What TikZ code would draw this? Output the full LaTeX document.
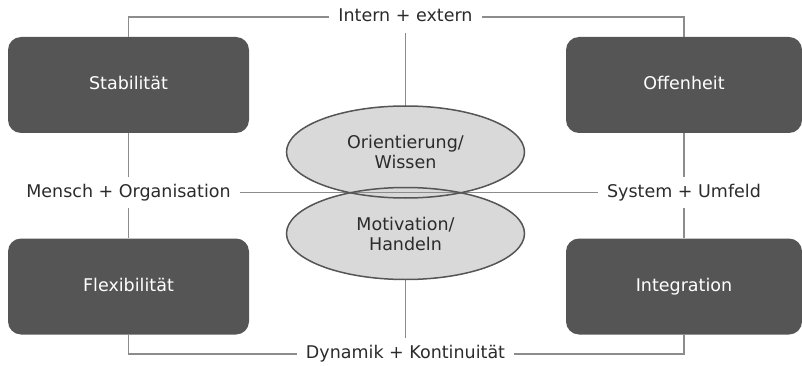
\documentclass[tikz,border=0pt]{standalone}
\usepackage{fontspec}
\setmainfont{DejaVu Sans}
\usetikzlibrary{shapes.geometric}
\definecolor{boxgray}{HTML}{555555}
\definecolor{ovalfill}{HTML}{D9D9D9}
\definecolor{ovalline}{HTML}{555555}
\definecolor{linkgray}{HTML}{8C8C8C}
\definecolor{txt}{HTML}{2B2B2B}
\begin{document}
\begin{tikzpicture}[x=1pt,y=-1pt,
  every node/.style={font=\fontsize{17.5}{20}\selectfont, text=txt},
  quality/.style={draw=none, fill=boxgray, rounded corners=13pt,
    minimum height=96pt, inner sep=0pt, text=white,
    text height=13pt, text depth=3.5pt},
  oval/.style={ellipse, minimum width=238pt, minimum height=92pt, inner sep=0pt,
    align=center},
  axislabel/.style={inner xsep=9pt, inner ysep=7.5pt,
    text height=13pt, text depth=3.5pt},
  link/.style={draw=linkgray, line width=1.1pt}]
\useasboundingbox (0,0) rectangle (802,366);

% four quality boxes
\node[quality, minimum width=241pt] (stab) at (128.5,85) {Stabilität};
\node[quality, minimum width=236pt] (offen) at (684,85) {Offenheit};
\node[quality, minimum width=241pt] (flex) at (128.5,286.5) {Flexibilität};
\node[quality, minimum width=236pt] (integ) at (684,286.5) {Integration};

% axis labels
\node[axislabel] (intern) at (405.5,17) {Intern + extern};
\node[axislabel] (dyn) at (405.5,354) {Dynamik + Kontinuität};
\node[axislabel] (mensch) at (128.5,192.5) {Mensch + Organisation};
\node[axislabel] (umfeld) at (684,192.5) {System + Umfeld};

% centres of the two ovals
\coordinate (ocA) at (405.5,152);
\coordinate (ocB) at (405.5,233.5);

% connectors
\draw[link] (stab.north) |- (intern.west);
\draw[link] (offen.north) |- (intern.east);
\draw[link] (flex.south) |- (dyn.west);
\draw[link] (integ.south) |- (dyn.east);
\draw[link] (stab.south) -- (mensch.north);
\draw[link] (mensch.south) -- (flex.north);
\draw[link] (offen.south) -- (umfeld.north);
\draw[link] (umfeld.south) -- (integ.north);

% oval fills first, outlines on top so both edges show in the overlap
\node[oval, fill=ovalfill] (wissen) at (ocA) {};
\node[oval, fill=ovalfill] (handeln) at (ocB) {};
\draw[link] (intern.south) -- (wissen.north);
\draw[link] (handeln.south) -- (dyn.north);
\draw[link] (mensch.east) -- (umfeld.west);
\node[oval, draw=ovalline, line width=1.5pt] at (ocA) {Orientierung/\\Wissen};
\node[oval, draw=ovalline, line width=1.5pt] at (ocB) {Motivation/\\Handeln};
\end{tikzpicture}
\end{document}
